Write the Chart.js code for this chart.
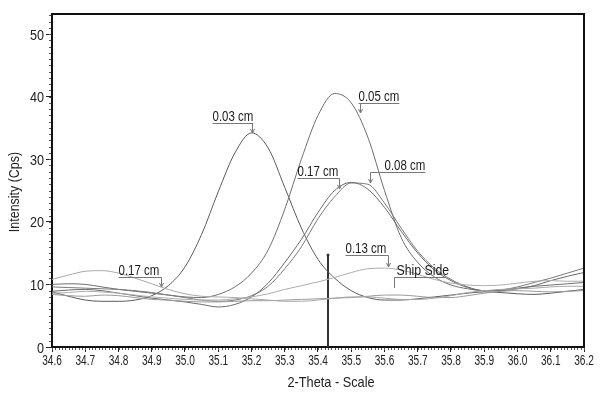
<!DOCTYPE html>
<html>
<head>
<meta charset="utf-8">
<script src="https://cdn.jsdelivr.net/npm/chart.js@4.4.1/dist/chart.umd.min.js"></script>
<style>
  body { margin: 0; background: #fff; }
  canvas { display: block; }
</style>
</head>
<body>
<canvas id="xrdChart" width="600" height="397"></canvas>
<script>
// 2-theta sample positions (every 0.05 deg)
const twoTheta = [34.6, 34.65, 34.7, 34.75, 34.8, 34.85, 34.9, 34.95, 35.0, 35.05, 35.1, 35.15, 35.2, 35.25, 35.3, 35.35, 35.4, 35.45, 35.5, 35.55, 35.6, 35.65, 35.7, 35.75, 35.8, 35.85, 35.9, 35.95, 36.0, 36.05, 36.1, 36.15, 36.2];

// intensity for each sample
const cm003 = [8.8, 8.1, 7.5, 7.3, 7.3, 7.5, 8.2, 9.8, 12.8, 18.0, 24.8, 31.0, 34.2, 31.8, 25.5, 19.0, 14.0, 11.0, 9.0, 7.9, 7.5, 7.5, 7.7, 8.0, 8.3, 8.6, 8.8, 8.7, 8.5, 8.4, 8.6, 8.9, 9.2];
const cm005 = [10.0, 10.1, 10.0, 9.6, 9.2, 8.9, 8.6, 8.3, 8.0, 7.9, 8.4, 9.6, 11.8, 15.5, 22.0, 30.0, 37.0, 40.5, 39.0, 33.5, 25.0, 17.5, 13.5, 11.2, 9.9, 9.3, 9.0, 9.1, 9.4, 9.7, 9.9, 10.1, 10.3];
const cm008 = [9.6, 9.5, 9.4, 9.3, 9.2, 9.0, 8.7, 8.3, 7.9, 7.5, 7.3, 7.5, 8.2, 9.7, 12.5, 16.0, 20.5, 24.0, 26.2, 26.0, 23.0, 19.0, 15.3, 12.6, 10.8, 9.6, 9.0, 9.1, 9.6, 10.3, 11.0, 11.8, 12.6];
const cm017 = [8.9, 9.1, 9.2, 9.0, 8.6, 8.2, 7.8, 7.5, 7.2, 6.8, 6.4, 6.8, 8.0, 10.2, 13.5, 17.2, 21.5, 25.0, 26.3, 25.2, 22.3, 18.5, 15.0, 12.3, 10.6, 9.5, 9.0, 9.0, 9.3, 9.8, 10.6, 11.3, 11.9];
const cm013 = [8.6, 8.7, 8.9, 8.8, 8.6, 8.3, 8.0, 7.8, 7.6, 7.5, 7.5, 7.7, 8.0, 8.5, 9.2, 9.8, 10.4, 11.1, 11.9, 12.5, 12.6, 12.3, 11.6, 10.8, 10.2, 9.9, 9.8, 9.9, 10.2, 10.5, 10.6, 10.5, 10.5];
const shipSide = [8.4, 8.2, 8.1, 8.3, 8.2, 7.9, 7.6, 7.5, 7.3, 7.2, 7.2, 7.3, 7.4, 7.4, 7.5, 7.6, 7.7, 7.8, 7.9, 8.1, 8.3, 8.3, 8.1, 7.9, 7.9, 8.2, 8.6, 8.9, 9.0, 8.9, 8.8, 8.9, 9.0];
const cm017low = [10.8, 11.5, 12.1, 12.2, 11.8, 11.0, 10.1, 9.2, 8.5, 8.1, 8.0, 7.9, 7.7, 7.5, 7.3, 7.3, 7.5, 7.8, 8.0, 8.0, 7.8, 7.6, 7.6, 7.8, 8.2, 8.7, 9.0, 9.2, 9.3, 9.4, 9.6, 9.7, 9.7];

// vertical reference marker
const markerX = 35.43;
const markerTop = 14.7;

const xTicks = [34.6, 34.7, 34.8, 34.9, 35.0, 35.1, 35.2, 35.3, 35.4, 35.5, 35.6, 35.7, 35.8, 35.9, 36.0, 36.1, 36.2];
const yTicks = [0, 10, 20, 30, 40, 50];

// callout labels: anchor in data units, text offset in px
const callouts = [
  { text: '0.03 cm', x: 35.2, y: 34.2, dx: -40, rise: 10, arrow: true },
  { text: '0.05 cm', x: 35.526, y: 37.4, dx: -2, rise: 10, arrow: true },
  { text: '0.17 cm', x: 35.463, y: 25.2, dx: -42, rise: 11, arrow: true },
  { text: '0.08 cm', x: 35.556, y: 26.2, dx: 14, rise: 11, arrow: true },
  { text: '0.13 cm', x: 35.61, y: 12.8, dx: -43, rise: 12, arrow: true },
  { text: 'Ship Side', x: 35.63, y: 9.4, dx: 2, rise: 11, arrow: false },
  { text: '0.17 cm', x: 34.928, y: 9.6, dx: -43, rise: 10, arrow: true }
];

const FONT = '"Liberation Sans", Arial, sans-serif';

function series(values, color) {
  return {
    data: twoTheta.map((t, i) => ({ x: t, y: values[i] })),
    borderColor: color,
    borderWidth: 1,
    pointRadius: 0,
    cubicInterpolationMode: 'monotone',
    fill: false
  };
}

// the original uses a condensed face, so squeeze the text horizontally
function narrowText(ctx, text, x, y, size, align, sx) {
  ctx.save();
  ctx.translate(x, y);
  ctx.scale(sx, 1);
  ctx.font = size + 'px ' + FONT;
  ctx.textAlign = align;
  ctx.fillText(text, 0, 0);
  ctx.restore();
}

const decor = {
  id: 'decor',
  afterDraw(chart) {
    const { ctx, chartArea: a, scales: { x, y } } = chart;
    ctx.save();

    // frame top and right
    ctx.strokeStyle = '#111';
    ctx.lineWidth = 2;
    ctx.beginPath();
    ctx.moveTo(a.left, a.top);
    ctx.lineTo(a.right, a.top);
    ctx.lineTo(a.right, a.bottom);
    ctx.stroke();

    // minor ticks
    ctx.strokeStyle = '#555';
    ctx.lineWidth = 1;
    ctx.beginPath();
    for (let i = 0; i <= 160; i++) {
      const px = Math.round(x.getPixelForValue(34.6 + i * 0.01)) + 0.5;
      ctx.moveTo(px, a.bottom + 1);
      ctx.lineTo(px, a.bottom + 3);
    }
    for (let v = 1; v <= 53; v++) {
      const py = Math.round(y.getPixelForValue(v)) + 0.5;
      ctx.moveTo(a.left - 1, py);
      ctx.lineTo(a.left - 3, py);
    }
    ctx.stroke();

    // tick labels
    ctx.fillStyle = '#222';
    ctx.textBaseline = 'alphabetic';
    x.ticks.forEach(t => {
      narrowText(ctx, t.value.toFixed(1), x.getPixelForValue(t.value), a.bottom + 18, 14, 'center', 0.72);
    });
    y.ticks.forEach(t => {
      narrowText(ctx, String(t.value), a.left - 8, y.getPixelForValue(t.value) + 5.5, 15, 'right', 0.84);
    });

    // callouts
    ctx.font = '14px ' + FONT;
    callouts.forEach(c => {
      const px = Math.round(x.getPixelForValue(c.x)) + 0.5;
      const py = Math.round(y.getPixelForValue(c.y));
      const uy = py - c.rise + 0.5;
      const w = ctx.measureText(c.text).width * 0.82;
      const left = px + c.dx;
      ctx.strokeStyle = '#777';
      ctx.beginPath();
      ctx.moveTo(Math.min(left, px), uy);
      ctx.lineTo(Math.max(left + w, px), uy);
      ctx.moveTo(px, uy);
      ctx.lineTo(px, py);
      ctx.stroke();
      if (c.arrow) {
        ctx.beginPath();
        ctx.moveTo(px - 2, py - 4);
        ctx.lineTo(px, py);
        ctx.lineTo(px + 2, py - 4);
        ctx.stroke();
      }
      ctx.fillStyle = '#1a1a1a';
      narrowText(ctx, c.text, left, uy - 3, c.text === 'Ship Side' ? 15 : 14, 'left', 0.82);
    });

    // axis titles
    ctx.fillStyle = '#222';
    ctx.textBaseline = 'middle';
    narrowText(ctx, '2-Theta - Scale', 331, 383, 15, 'center', 0.85);
    ctx.translate(15, 192);
    ctx.rotate(-Math.PI / 2);
    narrowText(ctx, 'Intensity (Cps)', 0, 0, 15, 'center', 0.83);

    ctx.restore();
  }
};

const ctx = document.getElementById('xrdChart').getContext('2d');
new Chart(ctx, {
  type: 'line',
  data: {
    datasets: [
      series(cm017low, '#a8a8a8'),
      series(shipSide, '#9a9a9a'),
      series(cm013, '#adadad'),
      series(cm017, '#6a6a6a'),
      series(cm008, '#7a7a7a'),
      series(cm005, '#6e6e6e'),
      series(cm003, '#5a5a5a'),
      {
        data: [{ x: markerX, y: 0 }, { x: markerX, y: markerTop }],
        borderColor: '#333',
        borderWidth: 2,
        pointRadius: [0, 1.5],
        pointBackgroundColor: '#333',
        pointBorderWidth: 0,
        tension: 0
      }
    ]
  },
  options: {
    responsive: false,
    animation: false,
    layout: { padding: { left: 0, right: 16, top: 14, bottom: 0 } },
    plugins: {
      legend: { display: false },
      tooltip: { enabled: false }
    },
    scales: {
      x: {
        type: 'linear',
        min: 34.6,
        max: 36.2,
        afterBuildTicks: scale => { scale.ticks = xTicks.map(v => ({ value: v })); },
        afterFit: scale => { scale.height = 50; },
        ticks: { display: false },
        grid: { drawOnChartArea: false, tickLength: 5, tickColor: '#222' },
        border: { color: '#111', width: 2 }
      },
      y: {
        min: 0,
        max: 53.2,
        afterBuildTicks: scale => { scale.ticks = yTicks.map(v => ({ value: v })); },
        afterFit: scale => { scale.width = 52; },
        ticks: { display: false },
        grid: { drawOnChartArea: false, tickLength: 6, tickColor: '#222' },
        border: { color: '#111', width: 2 }
      }
    }
  },
  plugins: [decor]
});
</script>
</body>
</html>
